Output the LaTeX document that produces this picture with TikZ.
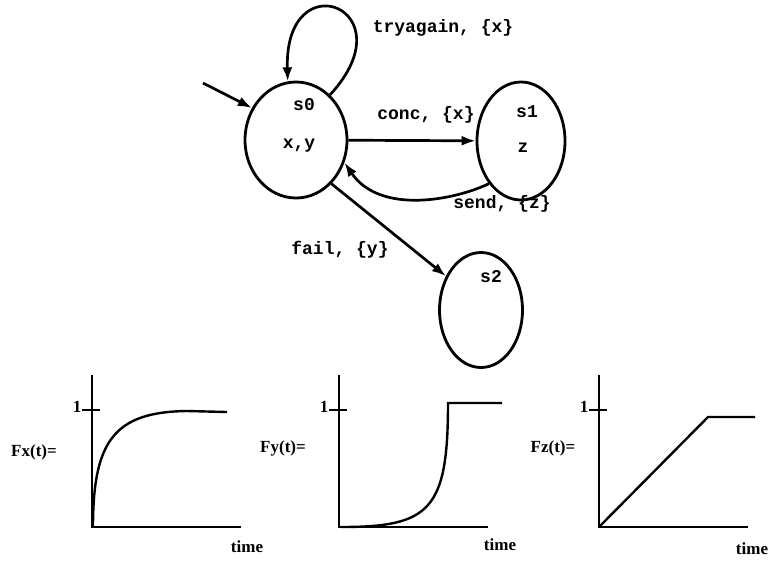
\documentclass[tikz,border=0pt]{standalone}
\usepackage{fontspec}
\setmainfont{Liberation Serif}
\newfontfamily\statefont{Liberation Mono}
\usetikzlibrary{arrows.meta, shapes.geometric}

\begin{document}
\begin{tikzpicture}[x=1pt, y=-1pt, >={Latex[length=14pt,width=10pt]}, line width=2.7pt,
		state/.style={draw, ellipse, line width=2.8pt, inner sep=0pt},
		lbl/.style={font=\statefont\bfseries\fontsize{18}{21}\selectfont},
		plotlbl/.style={font=\bfseries\fontsize{17}{20}\selectfont}]
	
	\useasboundingbox (0,0) rectangle (770,560);
	
	% --- Zustaende ---
	\node[state, minimum width=102pt, minimum height=116pt] (s0) at (296,140) {};
	\node[state, minimum width=88pt, minimum height=118pt] (s1) at (521,141) {};
	\node[state, minimum width=83pt, minimum height=115pt] (s2) at (481,310) {};
	\node[lbl] (s0name) at (304,105) {s0};
	\node[lbl] (s0vars) at (299,146) {x,y};
	\node[lbl] (s1name) at (527,112) {s1};
	\node[lbl] (s1vars) at (523,148) {z};
	\node[lbl] (s2name) at (491,277) {s2};
	
	% --- Startpfeil ---
	\coordinate (start) at (203,83);
	\draw[->] (start) -- (s0.144);
	
	% --- Uebergaenge ---
	\draw[->] (s0.53) .. controls (410,8) and (284,-40) .. (s0.98);
	\node[lbl] (tryagain) at (443,28) {tryagain, \{x\}};
	
	\draw[->] (s0) -- (s1);
	\node[lbl] (conc) at (426,115) {conc, \{x\}};
	
	\draw[->] (s1.233) .. controls (455,200) and (380,215) .. (s0.-25);
	\node[lbl] (send) at (502,204) {send, \{z\}};
	
	\draw[->] (s0.-51) -- (s2.136);
	\node[lbl] (fail) at (340,250) {fail, \{y\}};
	
	% --- Verteilungsfunktionen: Achsen ---
	\foreach \ox in {92,339,599}{
		\draw[line width=2.4pt] (\ox,375) -- (\ox,527) -- (\ox+149,527);
		\draw[line width=2.4pt] (\ox-10,410) -- (\ox+8,410);
		\node[plotlbl] at (\ox-15,407) {1};
	}
	
	% Fx: schnell ansteigend
	\draw[line width=2.4pt] (93,527) .. controls (93,440) and (115,412) .. (187,411) -- (227,412);
	\node[plotlbl] (fx) at (34,452) {Fx(t)=};
	\node[plotlbl] (tx) at (247,547) {time};
	
	% Fy: spaet ansteigend
	\draw[line width=2.4pt] (341,527) .. controls (430,527) and (448,510) .. (448,403) -- (502,403);
	\node[plotlbl] (fy) at (283,448) {Fy(t)=};
	\node[plotlbl] (ty) at (500,545) {time};
	
	% Fz: linear
	\draw[line width=2.4pt] (599,527) -- (708,417) -- (755,417);
	\node[plotlbl] (fz) at (553,448) {Fz(t)=};
	\node[plotlbl] (tz) at (752,549) {time};
	
\end{tikzpicture}
\end{document}
